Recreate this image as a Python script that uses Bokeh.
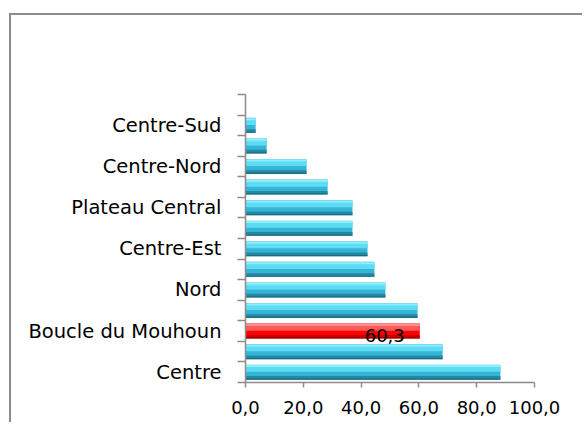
from bokeh.plotting import figure
from bokeh.models import FixedTicker, ColumnDataSource, Range1d
from bokeh.core.properties import value
from bokeh.embed import file_html
from bokeh.resources import INLINE

# categories listed bottom -> top (as in the original chart)
regions = ["Centre", "Hauts-Bassins", "Boucle du Mouhoun", "Centre-Ouest", "Nord",
           "Cascades", "Centre-Est", "Sud-Ouest", "Plateau Central", "Est",
           "Centre-Nord", "Sahel", "Centre-Sud"]
values = [88.2, 68.2, 60.3, 59.5, 48.4, 44.6, 42.2, 37.0, 37.0, 28.4, 21.1, 7.3, 3.5]
shown_labels = ["Centre", "Boucle du Mouhoun", "Nord", "Centre-Est",
                "Plateau Central", "Centre-Nord", "Centre-Sud"]
highlight = "Boucle du Mouhoun"
x_ticks = [0, 20, 40, 60, 80, 100]
x_tick_labels = ["0,0", "20,0", "40,0", "60,0", "80,0", "100,0"]
n_slots = 14

FONT = "DejaVu Sans"
GRAY = "#8c8c8c"

pos = [i + 0.5 for i in range(len(regions))]
is_hi = [r == highlight for r in regions]
base_col = ["#ff0000" if h else "#35b5d6" for h in is_hi]
light_col = ["#ff5a5a" if h else "#5fdcf4" for h in is_hi]
top_col = ["#ff8c8c" if h else "#8ef0fd" for h in is_hi]
dark_col = ["#c80000" if h else "#2488a3" for h in is_hi]
edge_col = ["#a00000" if h else "#1b6b82" for h in is_hi]

src = ColumnDataSource(dict(
    region=regions, val=values, y=pos,
    y_light=[p + 0.17 for p in pos], y_top=[p + 0.3 for p in pos],
    y_dark=[p - 0.26 for p in pos], y_edge=[p - 0.335 for p in pos],
    base=base_col, light=light_col, top=top_col, dark=dark_col, edge=edge_col,
))

p = figure(width=573, height=409, output_backend="svg", toolbar_location=None,
           x_range=Range1d(0, 100), y_range=Range1d(0, n_slots),
           min_border_left=234, min_border_right=50, min_border_top=79,
           min_border_bottom=42)
p.styles = {"margin-left": "9px", "margin-top": "13px",
            "border-left": f"2px solid {GRAY}", "border-top": f"2px solid {GRAY}"}

H = 0.73
p.hbar(y="y", left=0, right="val", height=H, fill_color="base", line_color=None, source=src)
p.hbar(y="y_light", left=0, right="val", height=0.3, fill_color="light", line_color=None, source=src)
p.hbar(y="y_top", left=0, right="val", height=0.1, fill_color="top", line_color=None, source=src)
p.hbar(y="y_dark", left=0, right="val", height=0.15, fill_color="dark", line_color=None, source=src)
p.hbar(y="y_edge", left=0, right="val", height=0.06, fill_color="edge", line_color=None, source=src)

# data label on the highlighted bar
hi_idx = regions.index(highlight)
lab_src = ColumnDataSource(dict(x=[values[hi_idx]], y=[pos[hi_idx]],
                                t=[f"{values[hi_idx]:.1f}".replace(".", ",")]))
p.text(x="x", y="y", text="t", source=lab_src, text_font=value(FONT),
       text_font_size="18px", text_align="right", text_baseline="middle",
       x_offset=-15, y_offset=4, text_color="#000000")

# x axis
xa = p.xaxis[0]
xa.ticker = FixedTicker(ticks=x_ticks)
xa.major_label_overrides = {t: l for t, l in zip(x_ticks, x_tick_labels)}
xa.major_label_text_font = FONT
xa.major_label_text_font_size = "18px"
xa.major_label_text_color = "#000000"
xa.major_label_standoff = 13
xa.major_tick_out = 5
xa.major_tick_in = 0
xa.minor_tick_out = 0
xa.minor_tick_in = 0
xa.axis_line_color = GRAY
xa.major_tick_line_color = GRAY
xa.axis_line_width = 1.5
xa.major_tick_line_width = 1.5

# y axis: ticks at category boundaries, labels at every other category centre
ya = p.yaxis[0]
lab_pos = [pos[regions.index(r)] for r in shown_labels]
ya.ticker = FixedTicker(ticks=lab_pos, minor_ticks=list(range(n_slots + 1)))
ya.major_label_overrides = {y: r for y, r in zip(lab_pos, shown_labels)}
ya.major_label_text_font = FONT
ya.major_label_text_font_size = "19.5px"
ya.major_label_text_color = "#000000"
ya.major_label_standoff = 16
ya.major_tick_out = 0
ya.major_tick_in = 0
ya.minor_tick_out = 8
ya.minor_tick_in = 0
ya.minor_tick_line_color = GRAY
ya.minor_tick_line_width = 1.5
ya.axis_line_color = GRAY
ya.axis_line_width = 1.5

p.grid.visible = False
p.outline_line_color = None
p.background_fill_color = "white"
p.border_fill_color = "white"

open("out.html", "w").write(file_html(p, INLINE))
